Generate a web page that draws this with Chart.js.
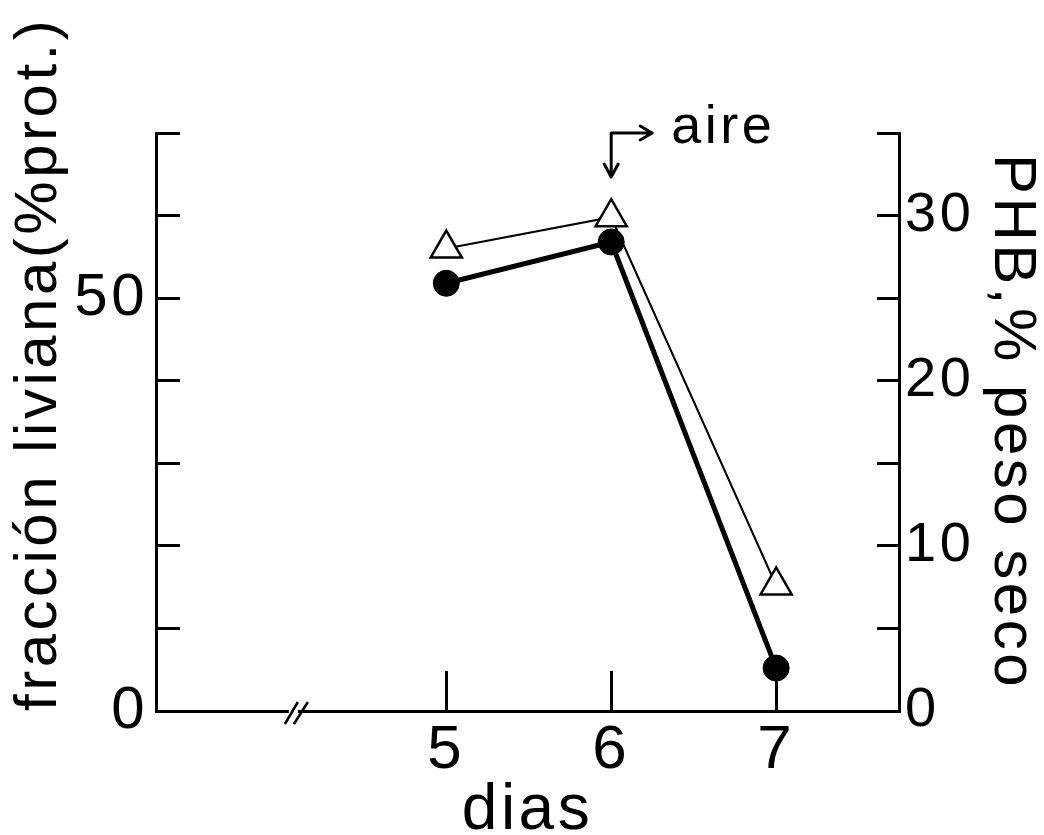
<!DOCTYPE html>
<html>
<head>
<meta charset="utf-8">
<script src="https://cdn.jsdelivr.net/npm/chart.js@4.4.1/dist/chart.umd.min.js"></script>
<style>
  html, body { margin: 0; padding: 0; background: #ffffff; }
  canvas { display: block; }
</style>
</head>
<body>
<canvas id="chart" width="1044" height="835"></canvas>
<script>
// ---- data ----
const days = [5, 6, 7];
const fraccionLiviana = [51.8, 56.8, 5.2];   // left axis, filled circles
const phbPesoSeco = [28.0, 29.9, 7.6];       // right axis, open triangles

const xTicks = [5, 6, 7];
const xTickLabels = ['5', '6', '7'];
const leftTicks = [0, 10, 20, 30, 40, 50, 60, 70];
const leftTickLabels = ['0', '', '', '', '', '50', '', ''];
const rightTicks = [0, 5, 10, 15, 20, 25, 30, 35];
const rightTickLabels = ['0', '', '10', '', '20', '', '30', ''];

const xTitle = 'dias';
const leftTitle = 'fracción liviana(%prot.)';
const rightTitle = 'PHB,% peso seco';
const annotationDay = 6;
const annotationText = 'aire';
const axisBreakDay = 4.07;

const xRange = [3.24, 7.745];
const leftRange = [0, 70];
const rightRange = [0, 35];

const FONT = "'Liberation Sans', Arial, sans-serif";
const INK = '#000000';

const letterSpacingPlugin = {
  id: 'letterSpacing',
  beforeDraw(chart) { chart.ctx.letterSpacing = '3.5px'; }
};

const decorations = {
  id: 'decorations',
  beforeDatasetsDraw(chart) {
    const { ctx, scales: { x } } = chart;
    const px = x.getPixelForValue(axisBreakDay);
    const y0 = x.top;
    ctx.save();
    ctx.fillStyle = '#ffffff';
    ctx.fillRect(px - 4, y0 - 3, 9, 6);
    ctx.strokeStyle = INK;
    ctx.lineWidth = 2.5;
    ctx.beginPath();
    ctx.moveTo(px - 8, y0 + 13); ctx.lineTo(px + 5, y0 - 9);
    ctx.moveTo(px + 1, y0 + 13); ctx.lineTo(px + 15, y0 - 9);
    ctx.stroke();
    ctx.restore();
  },
  afterDatasetsDraw(chart) {
    const { ctx, scales: { x }, chartArea } = chart;
    const px = x.getPixelForValue(annotationDay);
    const top = chartArea.top;
    ctx.save();
    ctx.strokeStyle = INK;
    ctx.lineWidth = 3;
    ctx.lineCap = 'round';
    ctx.lineJoin = 'round';
    ctx.beginPath();
    // vertical arrow pointing down
    ctx.moveTo(px, top); ctx.lineTo(px, top + 44);
    ctx.moveTo(px - 7, top + 31); ctx.lineTo(px, top + 44); ctx.lineTo(px + 7, top + 31);
    // horizontal arrow pointing right
    ctx.moveTo(px, top); ctx.lineTo(px + 41, top);
    ctx.moveTo(px + 29, top - 7); ctx.lineTo(px + 41, top); ctx.lineTo(px + 29, top + 7);
    ctx.stroke();
    ctx.fillStyle = INK;
    ctx.font = '54px ' + FONT;
    ctx.textAlign = 'left';
    ctx.textBaseline = 'alphabetic';
    ctx.fillText(annotationText, px + 60, top + 10);
    ctx.restore();
  }
};

new Chart(document.getElementById('chart'), {
  type: 'line',
  data: {
    datasets: [
      {
        label: rightTitle,
        data: days.map((d, i) => ({ x: d, y: phbPesoSeco[i] })),
        yAxisID: 'y1',
        borderColor: INK,
        borderWidth: 2,
        pointStyle: 'triangle',
        pointRadius: 18,
        pointBackgroundColor: '#ffffff',
        pointBorderColor: INK,
        pointBorderWidth: 2.5,
        tension: 0
      },
      {
        label: leftTitle,
        data: days.map((d, i) => ({ x: d, y: fraccionLiviana[i] })),
        yAxisID: 'y',
        borderColor: INK,
        borderWidth: 5,
        pointStyle: 'circle',
        pointRadius: 13,
        pointBackgroundColor: INK,
        pointBorderColor: INK,
        pointBorderWidth: 1,
        tension: 0
      }
    ]
  },
  options: {
    responsive: false,
    animation: false,
    devicePixelRatio: 1,
    layout: { padding: { top: 133, left: 0, right: 0, bottom: 0 }, autoPadding: false },
    plugins: { legend: { display: false }, tooltip: { enabled: false } },
    scales: {
      x: {
        type: 'linear',
        position: 'bottom',
        min: xRange[0],
        max: xRange[1],
        afterBuildTicks: s => { s.ticks = xTicks.map(v => ({ value: v })); },
        afterFit: s => { s.height = 124; },
        grid: { display: true, drawOnChartArea: false, drawTicks: true, tickLength: -40, color: INK, lineWidth: 3 },
        border: { display: true, color: INK, width: 3 },
        ticks: {
          autoSkip: false, maxRotation: 0, padding: 43, color: INK,
          font: { family: FONT, size: 62 },
          callback: v => xTickLabels[xTicks.indexOf(v)]
        },
        title: { display: true, text: xTitle, color: INK, padding: 0, font: { family: FONT, size: 64, lineHeight: 0.75 } }
      },
      y: {
        type: 'linear',
        position: 'left',
        min: leftRange[0],
        max: leftRange[1],
        afterBuildTicks: s => { s.ticks = leftTicks.map(v => ({ value: v })); },
        afterFit: s => { s.width = 156; },
        grid: { display: true, drawOnChartArea: false, drawTicks: true, tickLength: -24, color: INK, lineWidth: 3 },
        border: { display: true, color: INK, width: 3 },
        ticks: {
          autoSkip: false, padding: 32, color: INK,
          font: { family: FONT, size: 60 },
          callback: v => leftTickLabels[leftTicks.indexOf(v)]
        },
        title: { display: true, text: leftTitle, align: 'start', color: INK, padding: { top: 3, bottom: 0 }, font: { family: FONT, size: 60 } }
      },
      y1: {
        type: 'linear',
        position: 'right',
        min: rightRange[0],
        max: rightRange[1],
        afterBuildTicks: s => { s.ticks = rightTicks.map(v => ({ value: v })); },
        afterFit: s => { s.width = 145; },
        grid: { display: true, drawOnChartArea: false, drawTicks: true, tickLength: -22, color: INK, lineWidth: 3 },
        border: { display: true, color: INK, width: 3 },
        ticks: {
          autoSkip: false, padding: 28, color: INK,
          font: { family: FONT, size: 56 },
          callback: v => rightTickLabels[rightTicks.indexOf(v)]
        },
        title: { display: true, text: rightTitle, color: INK, padding: { top: 2, bottom: 0 }, font: { family: FONT, size: 60, lineHeight: 1 } }
      }
    }
  },
  plugins: [letterSpacingPlugin, decorations]
});
</script>
</body>
</html>
